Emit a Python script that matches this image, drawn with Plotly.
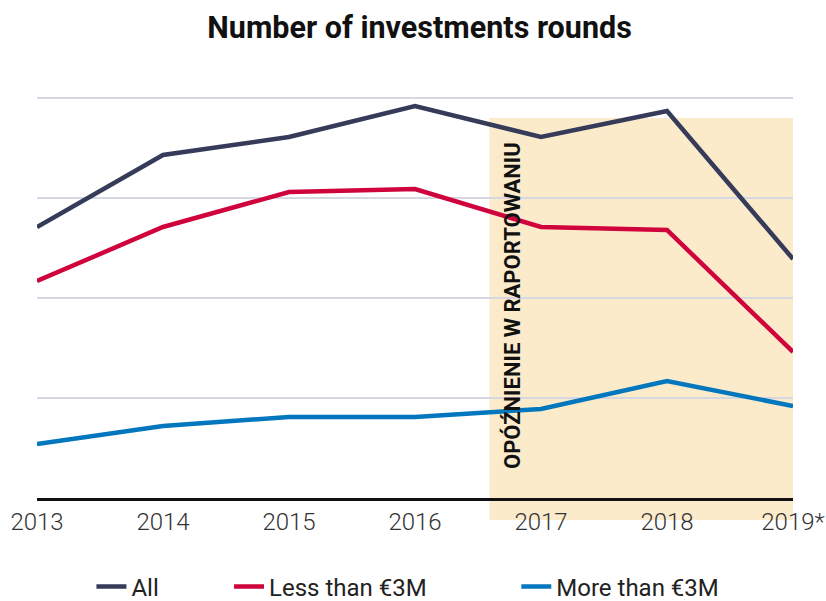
import plotly.graph_objects as go

years = [2013, 2014, 2015, 2016, 2017, 2018, 2019]
tick_labels = ["2013", "2014", "2015", "2016", "2017", "2018", "2019*"]
all_rounds = [271, 343, 361, 392, 361, 387, 239]
less_3m = [217, 271, 306, 309, 271, 268, 146]
more_3m = [54, 72, 81, 81, 89, 117, 92]

series_names = ["All", "Less than €3M", "More than €3M"]
series_colors = ["#363b59", "#d0043c", "#0277bd"]

delay_start = 2016.59
delay_top = 380
note_text = "OPÓŹNIENIE W RAPORTOWANIU"

y_max = 418

fig = go.Figure()
legend_ids = ["legend", "legend2", "legend3"]
for name, vals, col, lg in zip(series_names, [all_rounds, less_3m, more_3m], series_colors, legend_ids):
    fig.add_trace(go.Scatter(x=years, y=vals, name=name, mode="lines",
                             line=dict(color=col, width=4.5), legend=lg))

fig.add_shape(type="rect", xref="x", yref="paper", x0=delay_start, x1=2019,
              y0=-22 / y_max, y1=delay_top / y_max, fillcolor="#fbebcb",
              line=dict(width=0), layer="below")

fig.add_annotation(x=2016.77, y=192, xref="x", yref="y", text=note_text,
                   textangle=-90, showarrow=False,
                   font=dict(family="Roboto", size=22, color="#111111", weight="bold"))

font_fam = "Roboto"
leg_common = dict(orientation="h", yref="container", yanchor="middle", y=(601 - 587) / 601,
                  xanchor="left",
                  font=dict(family=font_fam, size=24, color="#222222"),
                  bgcolor="rgba(0,0,0,0)")

fig.update_layout(
    width=826, height=601,
    margin=dict(l=37, r=33, t=80, b=103, autoexpand=False),
    plot_bgcolor="white", paper_bgcolor="white",
    title=dict(text="<b>Number of investments rounds</b>", x=0.508, xanchor="center",
               y=1 - 27 / 601, yanchor="middle",
               font=dict(family=font_fam, size=30.5, color="#111111")),
    showlegend=True,
    legend=dict(x=0.072, **leg_common),
    legend2=dict(x=0.254, **leg_common),
    legend3=dict(x=0.634, **leg_common),
    xaxis=dict(range=[2013, 2019], tickvals=years, ticktext=tick_labels,
               showgrid=False, zeroline=False, showline=True, linecolor="#111111",
               linewidth=2.5, ticks="", automargin=False,
               tickfont=dict(family=font_fam, size=24, color="#333333", weight=300)),
    yaxis=dict(range=[0, y_max], tick0=0, dtick=100, showticklabels=False,
               showgrid=True, gridcolor="#d5d8e2", gridwidth=1.5, zeroline=False,
               ticks="", automargin=False),
)

fig.write_html("out.html", post_script="document.body.style.margin='0';",
               config={"displayModeBar": False})
